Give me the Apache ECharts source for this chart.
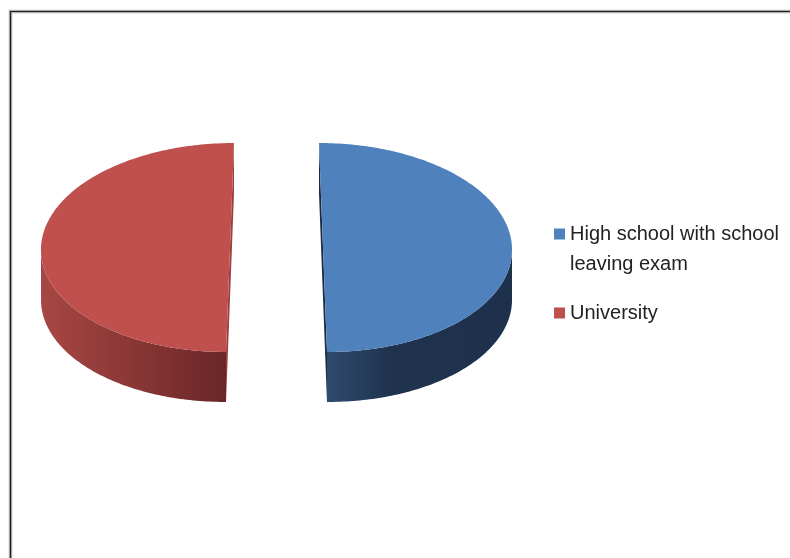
<!DOCTYPE html>
<html>
<head>
<meta charset="utf-8">
<script src="https://cdn.jsdelivr.net/npm/echarts@6/dist/echarts.min.js"></script>
<style>
  html, body { margin: 0; padding: 0; background: #ffffff; }
  #chart { width: 790px; height: 558px; }
</style>
</head>
<body>
<div id="chart"></div>
<script>
// Education level shares
const categories = ['High school with school leaving exam', 'University'];
const shares = [50, 50];
const sliceColors = ['#4F81BD', '#C0504D'];
const wallColors = [
  [[0, '#2F4B6E'], [0.35, '#1F324E'], [1, '#1E314C']],
  [[0, '#A84744'], [1, '#6A2727']]
];
const cutColors = ['#1B2B42', '#9C3E3B'];

// Tilted-disc geometry (pixels)
const CX = 276.5, CY = 247.5;   // centre of the top face
const RX = 189, RY = 104.5;      // ellipse radii of the top face
const DEPTH = 50;                // disc thickness
const EXPLODE = 0.246;           // slice offset, in radius units
const PERSP = 0.086;             // exploded slices lean towards the far side

// (ex, ey): slice offset; (u, v): point relative to the slice centre; h: drop
function project(ex, ey, u, v, h) {
  const lean = 1 + PERSP * (ey + v);
  return [CX + RX * (ex * lean + u), CY + RY * (ey + v) + h];
}

function rim(phi, ex, ey, h) {
  return project(ex, ey, Math.sin(phi), -Math.cos(phi), h);
}

function arcPoints(a, b, ex, ey, h) {
  const pts = [];
  const n = Math.max(2, Math.ceil(Math.abs(b - a) / (Math.PI / 180)));
  for (let i = 0; i <= n; i++) {
    pts.push(rim(a + (b - a) * i / n, ex, ey, h));
  }
  return pts;
}

const total = shares.reduce((s, v) => s + v, 0);

function renderSlice(params, api) {
  const k = params.seriesIndex;
  const value = api.value(0);
  let before = 0;
  for (let i = 0; i < k; i++) before += shares[i];
  const start = before / total * Math.PI * 2;
  const end = start + value / total * Math.PI * 2;
  const mid = (start + end) / 2;
  const ex = EXPLODE * Math.sin(mid);
  const ey = -EXPLODE * Math.cos(mid);

  const c0 = project(ex, ey, 0, 0, 0);
  const c1 = project(ex, ey, 0, 0, DEPTH);
  const children = [];

  // cut faces along the slice edges
  [start, end].forEach(phi => {
    children.push({
      type: 'polygon',
      shape: { points: [c0, rim(phi, ex, ey, 0), rim(phi, ex, ey, DEPTH), c1] },
      style: { fill: cutColors[k] }
    });
  });

  // front outer wall
  const a = Math.max(start, Math.PI / 2);
  const b = Math.min(end, Math.PI * 1.5);
  if (a < b) {
    const top = arcPoints(a, b, ex, ey, 0);
    const bottom = arcPoints(b, a, ex, ey, DEPTH);
    children.push({
      type: 'polygon',
      shape: { points: top.concat(bottom) },
      style: {
        fill: new echarts.graphic.LinearGradient(0, 0, 1, 0,
          wallColors[k].map(s => ({ offset: s[0], color: s[1] })))
      }
    });
  }

  // top face
  children.push({
    type: 'polygon',
    shape: { points: [c0].concat(arcPoints(start, end, ex, ey, 0)) },
    style: { fill: sliceColors[k] }
  });

  return { type: 'group', children: children };
}

const chart = echarts.init(document.getElementById('chart'), null, { renderer: 'canvas' });

const option = {
  animation: false,
  backgroundColor: '#ffffff',
  color: sliceColors,
  graphic: [
    {
      type: 'rect',
      shape: { x: 10.5, y: 11.5, width: 800, height: 560 },
      style: { fill: 'none', stroke: '#b0b0b0', lineWidth: 3.5 },
      silent: true
    },
    {
      type: 'rect',
      shape: { x: 10.5, y: 11.5, width: 800, height: 560 },
      style: { fill: 'none', stroke: '#1e1e1e', lineWidth: 1.2 },
      silent: true
    }
  ],
  legend: {
    orient: 'vertical',
    left: 554,
    top: 189,
    padding: 0,
    itemGap: 19,
    itemWidth: 11,
    itemHeight: 11,
    icon: 'rect',
    selectedMode: false,
    // a leading blank line keeps the first wrapped line level with its swatch
    formatter: name => (name === categories[0] ? '\n' + name : name),
    textStyle: {
      fontFamily: '"Liberation Sans", Arial, sans-serif',
      fontSize: 20,
      lineHeight: 30,
      color: '#222222',
      width: 222,
      overflow: 'break'
    },
    data: categories
  },
  series: categories.map((name, i) => ({
    type: 'custom',
    name: name,
    coordinateSystem: 'none',
    itemStyle: { color: sliceColors[i] },
    renderItem: renderSlice,
    data: [shares[i]]
  }))
};

chart.setOption(option);
</script>
</body>
</html>
